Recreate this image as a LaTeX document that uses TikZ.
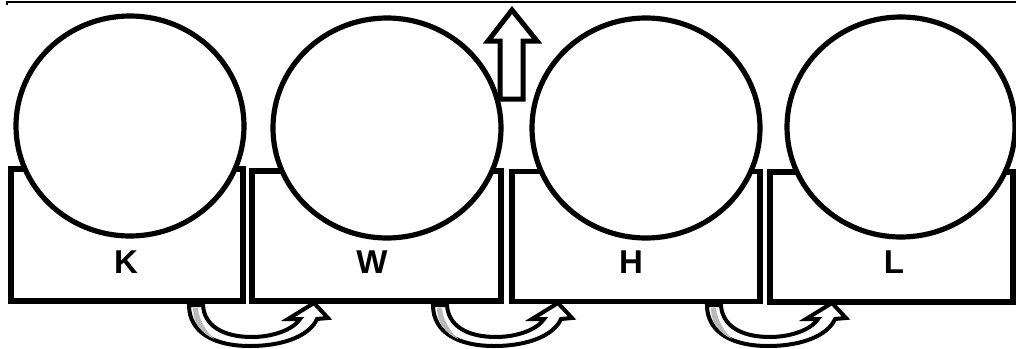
\documentclass[tikz,border=0pt]{standalone}
\usepackage{fontspec}
\setmainfont{Liberation Sans}
\usetikzlibrary{shapes.geometric}
\begin{document}
\begin{tikzpicture}[x=1pt,y=-1pt,
  boxst/.style={draw,line width=5.2pt,rectangle,inner sep=0pt},
  circst/.style={draw,fill=white,line width=5.2pt,ellipse,inner sep=0pt,minimum width=228pt,minimum height=220pt},
  lab/.style={font=\fontsize{33}{35}\selectfont\bfseries},
  curv/.style={draw,line width=4pt,line join=miter,fill=white},
  shine/.style={fill=gray!55},
  upar/.style={draw,fill=white,line width=5pt,line join=miter}]
\useasboundingbox (0,0) rectangle (1016,348);
\draw[line width=2.2pt] (7,5) -- (7,2) -- (1016,2);
% boxes
\node[boxst,minimum width=232pt,minimum height=132pt] (bK) at (127,235) {};
\node[boxst,minimum width=249pt,minimum height=130pt] (bW) at (376.5,236) {};
\node[boxst,minimum width=248pt,minimum height=130pt] (bH) at (636,236.5) {};
\node[boxst,minimum width=243pt,minimum height=130pt] (bL) at (891.5,237) {};
% circles
\node[circst] (cK) at (130,126) {};
\node[circst] (cW) at (387,128) {};
\node[circst] (cH) at (646,128) {};
\node[circst] (cL) at (901,127) {};
% labels
\node[lab] (lK) at (126,262) {K};
\node[lab] (lW) at (372,262) {W};
\node[lab] (lH) at (631,262) {H};
\node[lab] (lL) at (894,262) {L};
% up arrow
\path[upar] (500,99) -- (500,41) -- (488,41) -- (512,10) -- (537,41) -- (523,41) -- (523,99) -- cycle;
% curved arrows
\foreach \dx in {0,244,518}{
\begin{scope}[xshift=\dx pt]
\path[curv] (189,305) .. controls (189,333) and (215,346) .. (250,346) .. controls (285,346) and (310,335) .. (317,319) -- (328,318) -- (314,303) -- (288,319) -- (300,319) .. controls (293,330) and (272,337) .. (252,337) .. controls (222,337) and (204,325) .. (203,305) -- cycle;
\path[shine] (193,308) .. controls (193,323) and (201,333) .. (214,339) .. controls (206,331) and (199,320) .. (198,308) -- cycle;
\end{scope}}
\end{tikzpicture}
\end{document}
